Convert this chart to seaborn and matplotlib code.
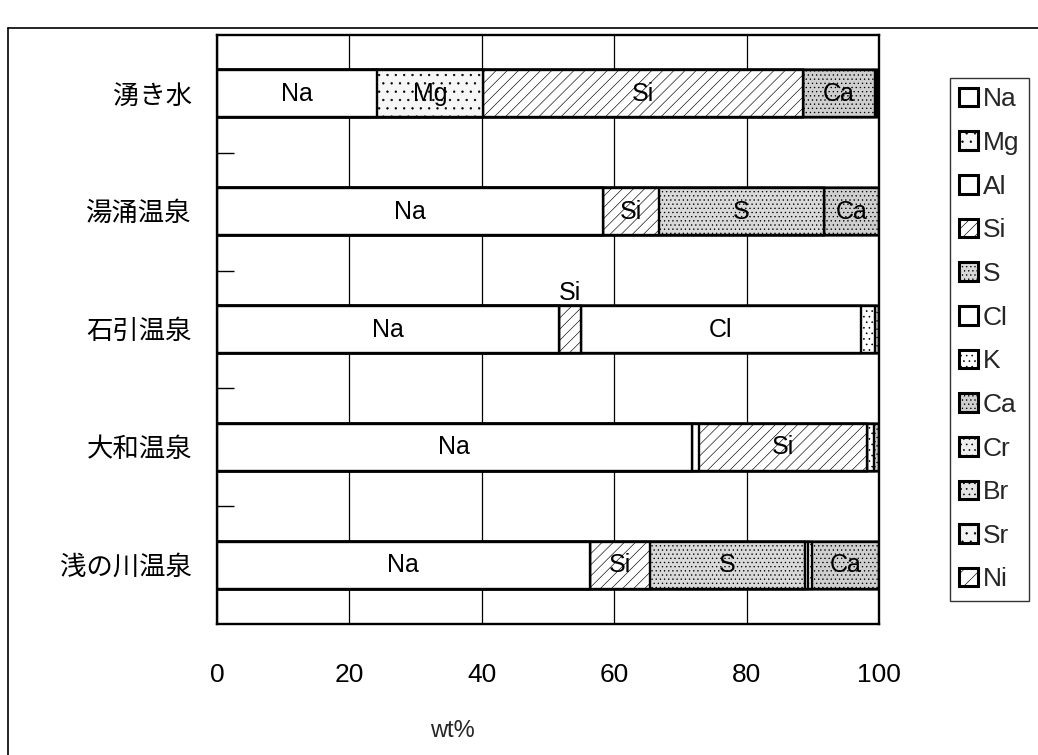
import matplotlib
matplotlib.use("Agg")
import matplotlib.pyplot as plt
from matplotlib.patches import Patch
from matplotlib.lines import Line2D
import numpy as np
import pandas as pd
import seaborn as sns

# Sites (top to bottom) and element composition in wt%
sites = ["湧き水", "湯涌温泉", "石引温泉", "大和温泉", "浅の川温泉"]
elements = ["Na", "Mg", "Al", "Si", "S", "Cl", "K", "Ca", "Cr", "Br", "Sr", "Ni"]

Na = [24.2, 58.3, 51.7, 71.7, 56.3]
Mg = [15.9, 0.0, 0.0, 0.0, 0.0]
Al = [0.0, 0.0, 0.0, 1.1, 0.0]
Si = [48.4, 8.5, 3.3, 25.4, 9.1]
S = [0.0, 24.8, 0.0, 0.0, 23.4]
Cl = [0.0, 0.0, 42.2, 0.0, 0.5]
K = [0.0, 0.0, 2.2, 1.0, 0.5]
Ca = [10.8, 8.4, 0.6, 0.8, 10.2]
Cr = [0.3, 0.0, 0.0, 0.0, 0.0]
Br = [0.0, 0.0, 0.0, 0.0, 0.0]
Sr = [0.4, 0.0, 0.0, 0.0, 0.0]
Ni = [0.0, 0.0, 0.0, 0.0, 0.0]

x_ticks = [0, 20, 40, 60, 80, 100]
x_label = "wt%"

# Fill styles per element: (facecolor, hatch)
styles = {
    "Na": ("white", None),
    "Mg": ("#f6f6f6", ".."),
    "Al": ("white", None),
    "Si": ("white", "///"),
    "S": ("#d9d9d9", "...."),
    "Cl": ("white", None),
    "K": ("white", "..."),
    "Ca": ("#cfcfcf", "...."),
    "Cr": ("#eeeeee", "..."),
    "Br": ("#e4e4e4", "..."),
    "Sr": ("#f2f2f2", ".."),
    "Ni": ("white", "//"),
}

df = pd.DataFrame({"site": sites, "Na": Na, "Mg": Mg, "Al": Al, "Si": Si, "S": S,
                   "Cl": Cl, "K": K, "Ca": Ca, "Cr": Cr, "Br": Br, "Sr": Sr, "Ni": Ni})
cum = df[elements].cumsum(axis=1)
cum["site"] = df["site"]

sns.set_theme(style="white")
plt.rcParams["font.family"] = ["Liberation Sans", "Noto Sans CJK JP", "DejaVu Sans"]
plt.rcParams["hatch.linewidth"] = 0.45

fig = plt.figure(figsize=(10.38, 7.55), dpi=100)
ax = fig.add_axes([0.209, 0.1735, 0.638, 0.7801])

# Stacked bars: draw cumulative totals from the last element backwards
for el in reversed(elements):
    fc, hatch = styles[el]
    sns.barplot(data=cum, x=el, y="site", orient="h", order=sites, width=0.4,
                color=fc, saturation=1, edgecolor="black", linewidth=1.7,
                hatch=hatch, errorbar=None, ax=ax, zorder=2)

# Segment labels
for i, site in enumerate(sites):
    left = 0.0
    for el in elements:
        v = df.loc[i, el]
        if v >= 3:
            xc = left + v / 2
            if v < 5:
                ax.text(xc, i - 0.21, el, ha="center", va="bottom", fontsize=18,
                        color="black", zorder=5)
            else:
                ax.text(xc, i, el, ha="center", va="center", fontsize=18,
                        color="black", zorder=5)
        left += v

ax.set_xlim(0, 100)
ax.set_ylim(len(sites) - 0.5, -0.5)
ax.set_xticks(x_ticks)
ax.set_xticklabels([str(t) for t in x_ticks])
ax.set_ylabel("")
ax.set_xlabel(x_label, fontsize=17)
ax.xaxis.set_label_coords(0.356, -0.163)
ax.tick_params(axis="x", length=0, pad=28, labelsize=19, colors="black")
ax.tick_params(axis="y", which="major", length=0, pad=18, labelsize=19, colors="black")
ax.set_yticks([i + 0.5 for i in range(len(sites) - 1)], minor=True)
ax.tick_params(axis="y", which="minor", direction="in", length=12, width=1, color="black", left=True)

ax.set_axisbelow(True)
ax.xaxis.grid(True, color="black", linewidth=0.9)
ax.yaxis.grid(False)
for sp in ax.spines.values():
    sp.set_color("black")
    sp.set_linewidth(1.7)

# Legend
handles = [Patch(facecolor=styles[e][0], hatch=styles[e][1], edgecolor="black", linewidth=2.2)
           for e in elements]
leg = fig.legend(handles, elements, loc="upper left", bbox_to_anchor=(950 / 1038, 1 - 78 / 755),
                 frameon=True, fancybox=False, edgecolor="black", fontsize=19,
                 handlelength=0.7, handleheight=0.7, handletextpad=0.2,
                 labelspacing=0.745, borderpad=0.35, borderaxespad=0)
leg.get_frame().set_linewidth(1.0)

# Outer chart frame
fig.add_artist(Line2D([8 / 1038, 8 / 1038], [0, 1 - 28 / 755], transform=fig.transFigure,
                      color="black", linewidth=1.2))
fig.add_artist(Line2D([8 / 1038, 1], [1 - 28 / 755, 1 - 28 / 755], transform=fig.transFigure,
                      color="black", linewidth=1.2))

fig.savefig("out.png", dpi=100, facecolor="white")
